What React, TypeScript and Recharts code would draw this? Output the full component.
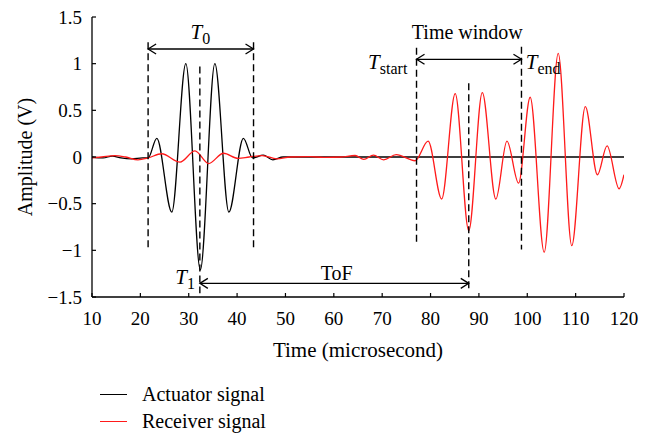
import React from 'react';
import { LineChart, Line, XAxis, YAxis, ReferenceLine, ReferenceDot, Label } from 'recharts';

const FONT = "'Liberation Serif', 'Times New Roman', serif";
const ACTUATOR_COLOR = '#000000';
const RECEIVER_COLOR = '#ff1a1a';

// axis ticks
const timeTicks = [10, 20, 30, 40, 50, 60, 70, 80, 90, 100, 110, 120];
const ampTicks = [-1.5, -1, -0.5, 0, 0.5, 1, 1.5];

const actuatorTime = [10, 12.3, 14.2, 16, 18.2, 20.5, 21.6, 23.4, 26.5, 29.4, 32.4, 35.4, 38.3, 41.3, 43.2, 45.4, 47.4, 49.5, 52, 120];
const actuatorAmp = [0, -0.01, 0.01, -0.01, -0.02, -0.01, -0.01, 0.2, -0.59, 1.0, -1.21, 1.0, -0.59, 0.2, -0.01, 0.02, -0.03, 0, 0, 0];

// receiver signal
const receiverTime = [10, 12, 14.7, 17, 19.5, 21.6, 24.4, 28.2, 31.3, 34.1, 37.2, 40.2, 42.5, 45.2, 48.2, 51, 55, 58, 61.5, 64.4, 66.2, 68.2, 70.3, 72.9, 76.8, 79.5, 82.3, 85.1, 87.9, 90.7, 93.5, 95.8, 98.2, 100.6, 103.5, 106.4, 109.2, 112, 114.5, 116.5, 119, 120];
const receiverAmp = [-0.01, 0, 0.015, 0, -0.03, -0.01, 0.035, -0.055, 0.065, -0.07, 0.04, -0.015, 0, 0.015, -0.02, 0, 0.005, -0.005, 0, 0.016, -0.025, 0.02, -0.03, 0.025, -0.04, 0.17, -0.45, 0.68, -0.79, 0.69, -0.45, 0.17, -0.28, 0.64, -1.02, 1.11, -0.95, 0.54, -0.19, 0.12, -0.34, -0.19];

// dashed markers: time, top, bottom (V)
const markerTime = [21.6, 43.4, 32.3, 77.1, 87.9, 98.8];
const markerTop = [1.23, 1.23, 0.97, 1.17, 0.79, 1.18];
const markerBottom = [-0.99, -0.99, -1.46, -0.93, -1.44, -0.99];

const actuatorData = actuatorTime.map((t, i) => ({ t, v: actuatorAmp[i] }));
const receiverData = receiverTime.map((t, i) => ({ t, v: receiverAmp[i] }));

const ArrowShape = (props: any) => {
  const { x1, y1, x2, y2 } = props;
  const h = 8;
  const w = 5;
  return (
    <g stroke="#000" strokeWidth={1.3} fill="none">
      <line x1={x1} y1={y1} x2={x2} y2={y2} />
      <polyline points={`${x1 + h},${y1 - w} ${x1},${y1} ${x1 + h},${y1 + w}`} />
      <polyline points={`${x2 - h},${y2 - w} ${x2},${y2} ${x2 - h},${y2 + w}`} />
    </g>
  );
};

const textAt = (content: React.ReactNode, anchor: 'start' | 'middle' | 'end' = 'middle') => (p: any) => (
  <text x={p.cx} y={p.cy} textAnchor={anchor} dominantBaseline="central" fontFamily={FONT} fontSize={20} fill="#000">
    {content}
  </text>
);

const sym = (sub: string) => (
  <>
    <tspan fontStyle="italic" fontSize={21}>T</tspan>
    <tspan fontSize={16} dy={6}>{sub}</tspan>
  </>
);

const XTick = (props: any) => {
  const { x, y, payload } = props;
  return (
    <g>
      <line x1={x} y1={y} x2={x} y2={y - 4} stroke="#000" strokeWidth={1.2} />
      <text x={x} y={y + 21} textAnchor="middle" dominantBaseline="central" fontFamily={FONT} fontSize={19} fill="#000">
        {payload.value}
      </text>
    </g>
  );
};

const YTick = (props: any) => {
  const { x, y, payload } = props;
  return (
    <g>
      <line x1={x} y1={y} x2={x + 4} y2={y} stroke="#000" strokeWidth={1.2} />
      <text x={x - 10} y={y} textAnchor="end" dominantBaseline="central" fontFamily={FONT} fontSize={19} fill="#000">
        {String(payload.value).replace('-', '\u2212')}
      </text>
    </g>
  );
};

export default function App() {
  return (
    <div style={{ position: 'absolute', left: 0, top: 0, width: 655, height: 437, background: '#fff' }}>
      <LineChart width={655} height={437} margin={{ top: 17, right: 31, bottom: 80, left: 22 }}>
        <XAxis
          dataKey="t"
          type="number"
          domain={[10, 120]}
          ticks={timeTicks}
          interval={0}
          tickSize={0}
          tickMargin={0}
          tick={<XTick />}
          axisLine={{ stroke: '#000', strokeWidth: 1.3 }}
          height={60}
          allowDataOverflow
        >
          <Label
            content={(p: any) => (
              <text x={p.viewBox.x + p.viewBox.width / 2} y={p.viewBox.y + 53} textAnchor="middle" dominantBaseline="central" fontFamily={FONT} fontSize={21} fill="#000">
                Time (microsecond)
              </text>
            )}
          />
        </XAxis>
        <YAxis
          type="number"
          domain={[-1.5, 1.5]}
          ticks={ampTicks}
          interval={0}
          tickSize={0}
          tickMargin={0}
          tick={<YTick />}
          axisLine={{ stroke: '#000', strokeWidth: 1.3 }}
          width={70}
          allowDataOverflow
        >
          <Label
            content={(p: any) => {
              const cx = p.viewBox.x + 3;
              const cy = p.viewBox.y + p.viewBox.height / 2;
              return (
                <text x={cx} y={cy} transform={`rotate(-90 ${cx} ${cy})`} textAnchor="middle" dominantBaseline="central" fontFamily={FONT} fontSize={20} fill="#000">
                  Amplitude (V)
                </text>
              );
            }}
          />
        </YAxis>

        <Line data={actuatorData} dataKey="v" type="monotone" stroke={ACTUATOR_COLOR} strokeWidth={1.3} dot={false} isAnimationActive={false} />
        <Line data={receiverData} dataKey="v" type="monotone" stroke={RECEIVER_COLOR} strokeWidth={1.3} dot={false} isAnimationActive={false} />

        {markerTime.map((t, i) => (
          <ReferenceLine
            key={`m${i}`}
            segment={[{ x: t, y: markerTop[i] }, { x: t, y: markerBottom[i] }]}
            stroke="#000"
            strokeWidth={1.4}
            strokeDasharray="7 4"
          />
        ))}

        <ReferenceLine segment={[{ x: 21.6, y: 1.157 }, { x: 43.4, y: 1.157 }]} shape={ArrowShape} />
        <ReferenceLine segment={[{ x: 77.1, y: 1.047 }, { x: 98.8, y: 1.047 }]} shape={ArrowShape} />
        <ReferenceLine segment={[{ x: 32.3, y: -1.354 }, { x: 87.9, y: -1.354 }]} shape={ArrowShape} />

        <ReferenceDot x={32.4} y={1.34} r={1} shape={textAt(sym('0'))} />
        <ReferenceDot x={87.6} y={1.343} r={1} shape={textAt('Time window')} />
        <ReferenceDot x={75.2} y={1.02} r={1} shape={textAt(sym('start'), 'end')} />
        <ReferenceDot x={99.7} y={1.02} r={1} shape={textAt(sym('end'), 'start')} />
        <ReferenceDot x={31.3} y={-1.29} r={1} shape={textAt(sym('1'), 'end')} />
        <ReferenceDot x={60.6} y={-1.247} r={1} shape={textAt('ToF')} />
      </LineChart>

      <div style={{ position: 'absolute', left: 100, top: 381, fontFamily: FONT, fontSize: 20, color: '#000', lineHeight: '27px' }}>
        {[
          { name: 'Actuator signal', color: ACTUATOR_COLOR },
          { name: 'Receiver signal', color: RECEIVER_COLOR },
        ].map((s) => (
          <div key={s.name} style={{ display: 'flex', alignItems: 'center' }}>
            <span style={{ display: 'inline-block', width: 27, height: 0, borderTop: `1.5px solid ${s.color}`, marginRight: 15 }} />
            <span>{s.name}</span>
          </div>
        ))}
      </div>
    </div>
  );
}
